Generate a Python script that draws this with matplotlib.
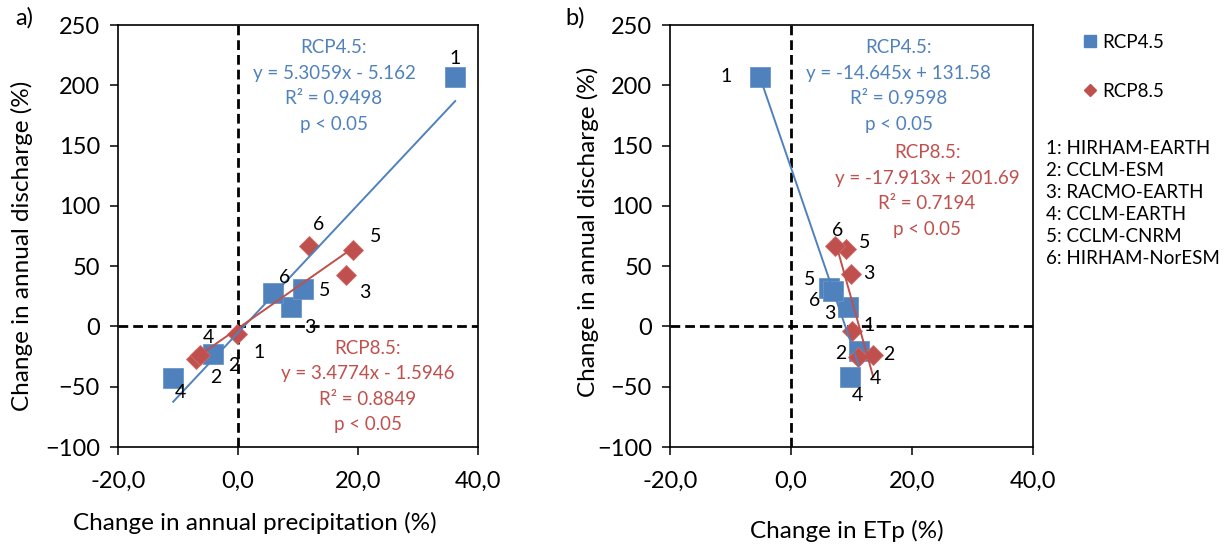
import numpy as np
import matplotlib
matplotlib.use("Agg")
import matplotlib.pyplot as plt
from matplotlib.lines import Line2D

plt.rcParams['font.family'] = ['Lato', 'DejaVu Sans']

# model numbers used as point labels
models = ["1", "2", "3", "4", "5", "6"]
model_names = ["1: HIRHAM-EARTH", "2: CCLM-ESM", "3: RACMO-EARTH",
               "4: CCLM-EARTH", "5: CCLM-CNRM", "6: HIRHAM-NorESM"]

# panel a: change in annual precipitation (%) vs change in discharge (%)
a45_x = [36.2, -4.1, 8.9, -10.8, 10.8, 5.8]
a45_y = [207, -22.7, 16, -43, 30.7, 28]
a85_x = [-0.1, -7.0, 18.0, -6.3, 19.1, 11.9]
a85_y = [-6.6, -27, 43, -24, 63, 67]

# panel b: change in ETp (%) vs change in discharge (%)
b45_x = [-5.2, 11.2, 9.4, 9.8, 6.3, 7.0]
b45_y = [207, -20, 16, -42, 32, 29]
b85_x = [10.1, 13.6, 9.95, 11.1, 9.1, 7.2]
b85_y = [-4, -24, 43.7, -25.5, 64.5, 67]

# trendline coefficients (slope, intercept) shown on the chart
a45_fit = (5.3059, -5.162)
a85_fit = (3.4774, -1.5946)
b45_fit = (-14.645, 131.58)
b85_fit = (-17.913, 201.69)

a45_txt = ["RCP4.5:", "y = 5.3059x - 5.162", "R² = 0.9498", "p < 0.05"]
a85_txt = ["RCP8.5:", "y = 3.4774x - 1.5946", "R² = 0.8849", "p < 0.05"]
b45_txt = ["RCP4.5:", "y = -14.645x + 131.58", "R² = 0.9598", "p < 0.05"]
b85_txt = ["RCP8.5:", "y = -17.913x + 201.69", "R² = 0.7194", "p < 0.05"]

xticks = [-20, 0, 20, 40]
xtick_labels = ["-20,0", "0,0", "20,0", "40,0"]
yticks = [-100, -50, 0, 50, 100, 150, 200, 250]

# label offsets in pixels (dx, dy) for the number labels
a45_off = [(0, 18), (20, -12), (18, -20), (7, -14), (22, -1), (12, 15)]
a85_off = [(22, -18), (20, -19), (19, -18), (8, 18), (23, 14), (9, 21)]
b45_off = [(-33, 0), (-18, -3), (-18, -6), (7, -18), (-20, 8), (-19, -9)]
b85_off = [(17, 6), (15, 1), (18, 0), (17, -21), (19, 6), (3, 15)]

BLUE = "#4F81BD"
RED = "#C0504D"


def draw_panel(ax, x45, y45, x85, y85, fit45, fit85, off45, off85):
    ax.axvline(0, color="black", lw=2, dashes=(3.5, 1.8), zorder=1)
    ax.axhline(0, color="black", lw=2, dashes=(3.5, 1.8), zorder=1)

    ax.plot(x45, y45, "s", color=BLUE, ms=14.5, mec="#6A95C8", mew=0.6, zorder=3)
    ax.plot(x85, y85, "D", color=RED, ms=10, mec="#D06A67", mew=0.6, zorder=4)

    for xs, fit, c in ((x45, fit45, BLUE), (x85, fit85, RED)):
        xx = np.array([min(xs), max(xs)])
        ax.plot(xx, fit[0] * xx + fit[1], color=c, lw=1.4, zorder=5)

    for xs, ys, offs in ((x45, y45, off45), (x85, y85, off85)):
        for m, xv, yv, (dx, dy) in zip(models, xs, ys, offs):
            ax.annotate(m, (xv, yv), xytext=(dx * 0.72, dy * 0.72),
                        textcoords="offset points", ha="center", va="center",
                        fontsize=14, zorder=6)

    ax.set_xlim(-20, 40)
    ax.set_ylim(-100, 250)
    ax.set_xticks(xticks)
    ax.set_xticklabels(xtick_labels)
    ax.set_yticks(yticks)
    ax.tick_params(direction="out", length=6, width=1.1, labelsize=17,
                   colors="black")
    ax.tick_params(axis="x", pad=11)
    ax.tick_params(axis="y", pad=7)
    for s in ax.spines.values():
        s.set_linewidth(1.2)


def stat_text(ax, x, y, lines, color):
    # one text per line, 25.5 px apart, first line centred at (x, y)
    for i, t in enumerate(lines):
        ax.annotate(t, (x, y), xytext=(0, -i * 25.5 * 0.72),
                    textcoords="offset points", color=color, fontsize=13.5,
                    ha="center", va="center")


fig = plt.figure(figsize=(12.3, 5.46), dpi=100)
ax1 = fig.add_axes([118 / 1230, 1 - 447 / 546, 360 / 1230, 422 / 546])
ax2 = fig.add_axes([670 / 1230, 1 - 447 / 546, 363 / 1230, 422 / 546])

draw_panel(ax1, a45_x, a45_y, a85_x, a85_y, a45_fit, a85_fit, a45_off, a85_off)
draw_panel(ax2, b45_x, b45_y, b85_x, b85_y, b45_fit, b85_fit, b45_off, b85_off)

stat_text(ax1, 16, 231, a45_txt, BLUE)
stat_text(ax1, 21.6, -18, a85_txt, RED)
stat_text(ax2, 17.8, 231, b45_txt, BLUE)
stat_text(ax2, 22.5, 144, b85_txt, RED)

ax1.text(0.38, -0.18, "Change in annual precipitation (%)", transform=ax1.transAxes,
         ha="center", va="center", fontsize=17.5)
ax2.text(0.488, -0.2, "Change in ETp (%)", transform=ax2.transAxes,
         ha="center", va="center", fontsize=17.5)
ax1.text(-0.267, 0.476, "Change in annual discharge (%)", transform=ax1.transAxes,
         ha="center", va="center", rotation=90, fontsize=17.5)
ax2.text(-0.226, 0.51, "Change in annual discharge (%)", transform=ax2.transAxes,
         ha="center", va="center", rotation=90, fontsize=17.5)

fig.text(15 / 1230, 1 - 18 / 546, "a)", fontsize=17, ha="left", va="center")
fig.text(565 / 1230, 1 - 18 / 546, "b)", fontsize=17, ha="left", va="center")

handles = [Line2D([], [], ls="", marker="s", color=BLUE, ms=9),
           Line2D([], [], ls="", marker="D", color=RED, ms=6.5)]
fig.legend(handles, ["RCP4.5", "RCP8.5"], loc="upper left",
           bbox_to_anchor=(1082 / 1230, 1 - 34 / 546), frameon=False,
           fontsize=13.5, handlelength=0.8, handletextpad=0.3, labelspacing=1.7,
           borderaxespad=0, borderpad=0)

fig.text(1046 / 1230, 1 - 140 / 546, "\n".join(model_names), fontsize=13.5,
         ha="left", va="top", linespacing=1.35)

fig.savefig("out.png", dpi=100)
